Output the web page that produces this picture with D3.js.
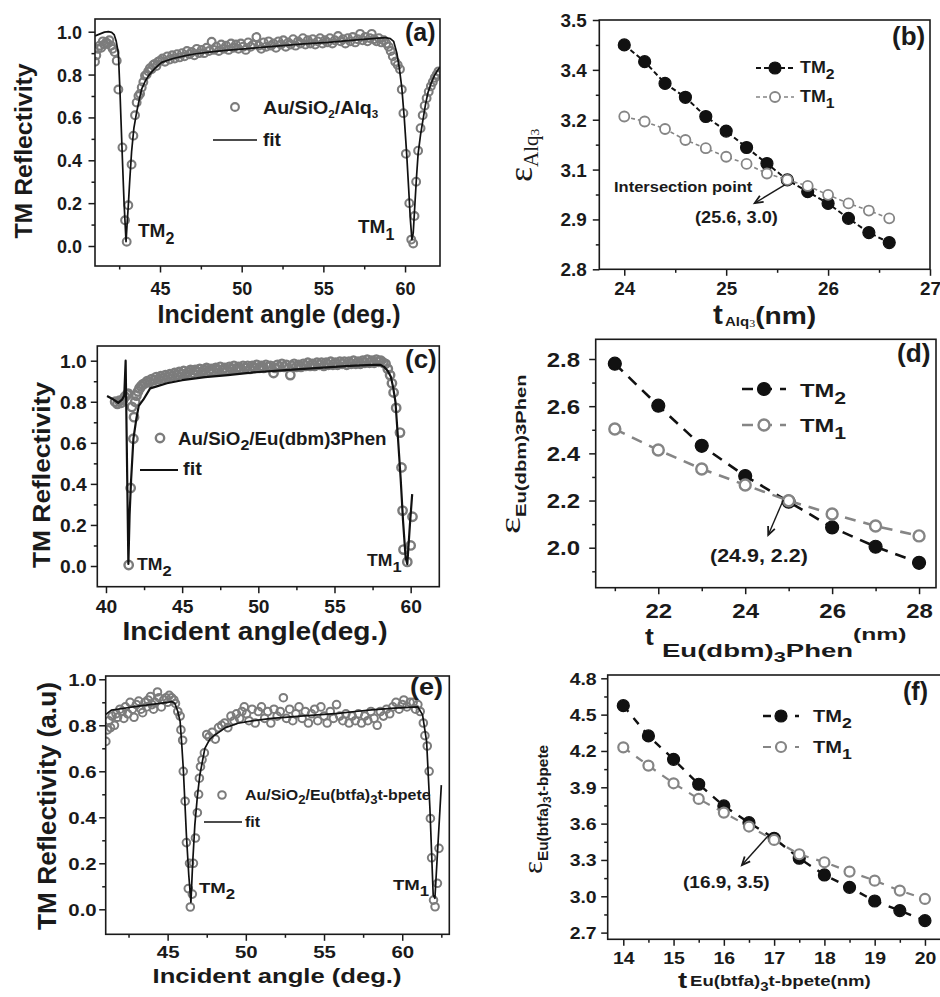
<!DOCTYPE html>
<html>
<head>
<meta charset="utf-8">
<script src="https://cdn.jsdelivr.net/npm/d3@7"></script>
<style>
  html, body { margin: 0; padding: 0; background: #fff; }
  svg { display: block; }
</style>
</head>
<body>
<script>
// ---------------- Reflectivity scans (TM polarisation) ----------------
// (a) Au/SiO2/Alq3
const aAngle = [41.02,41.10,41.20,41.30,41.40,41.50,41.60,41.70,41.80,41.90,42.00,42.10,42.22,42.35,42.45,42.70,42.86,42.96,43.06,43.26,43.37,43.47,43.57,43.68,43.78,43.88,43.98,44.08,44.18,44.28,44.38,44.48,44.58,44.68,44.78,44.88,45.00,45.15,45.30,45.45,45.60,45.75,45.90,46.05,46.20,46.35,46.50,46.65,46.80,46.95,47.10,47.25,47.40,47.55,47.70,47.85,48.00,48.16,48.30,48.45,48.60,48.75,48.90,49.05,49.20,49.35,49.50,49.65,49.80,49.95,50.10,50.25,50.40,50.55,50.70,50.90,51.05,51.20,51.35,51.50,51.65,51.80,51.95,52.10,52.25,52.40,52.55,52.70,52.85,53.00,53.15,53.30,53.45,53.60,53.75,53.90,54.05,54.20,54.35,54.50,54.65,54.80,54.95,55.10,55.25,55.40,55.55,55.70,55.90,56.05,56.20,56.35,56.50,56.65,56.80,56.95,57.10,57.25,57.40,57.55,57.70,57.85,57.96,58.10,58.25,58.40,58.55,58.70,58.85,59.00,59.12,59.25,59.40,59.55,59.69,59.80,59.90,60.05,60.26,60.38,60.50,60.58,60.68,60.80,60.95,61.08,61.20,61.32,61.45,61.58,61.70,61.82,61.94,62.05];
const aRefl  = [0.86,0.89,0.92,0.935,0.925,0.955,0.94,0.95,0.945,0.96,0.935,0.92,0.905,0.865,0.73,0.46,0.12,0.02,0.19,0.38,0.515,0.61,0.67,0.70,0.71,0.74,0.765,0.795,0.80,0.815,0.83,0.825,0.845,0.85,0.84,0.86,0.865,0.875,0.86,0.885,0.87,0.89,0.875,0.895,0.88,0.90,0.885,0.91,0.895,0.905,0.89,0.92,0.90,0.915,0.90,0.925,0.91,0.953,0.915,0.93,0.91,0.94,0.92,0.935,0.915,0.945,0.925,0.94,0.92,0.945,0.93,0.915,0.95,0.93,0.94,0.975,0.935,0.92,0.95,0.93,0.955,0.935,0.945,0.925,0.955,0.94,0.96,0.93,0.95,0.94,0.965,0.935,0.955,0.945,0.97,0.94,0.96,0.945,0.965,0.94,0.955,0.97,0.945,0.96,0.95,0.97,0.945,0.96,0.98,0.955,0.965,0.945,0.97,0.955,0.975,0.95,0.965,0.99,0.96,0.975,0.955,0.97,0.99,0.965,0.955,0.97,0.95,0.96,0.945,0.93,0.91,0.885,0.86,0.845,0.825,0.73,0.62,0.43,0.20,0.03,0.012,0.14,0.30,0.445,0.55,0.61,0.655,0.69,0.72,0.745,0.765,0.785,0.80,0.815];
const aFitAngle = [41.02,41.33,41.60,41.84,42.04,42.20,42.32,42.45,42.55,42.61,42.70,42.80,42.92,43.00,43.06,43.15,43.26,43.40,43.57,43.75,43.88,44.10,44.30,44.70,45.10,45.80,46.50,47.10,48.00,49.00,50.00,51.20,52.50,53.80,55.30,56.50,57.80,58.80,59.10,59.30,59.50,59.65,59.80,59.95,60.10,60.22,60.32,60.42,60.50,60.60,60.70,60.80,60.95,61.10,61.25,61.40,61.60,61.80,62.00,62.14];
const aFitRefl  = [0.98,0.99,0.998,1.0,0.997,0.985,0.955,0.90,0.72,0.59,0.40,0.20,0.02,0.12,0.19,0.31,0.44,0.55,0.625,0.69,0.733,0.77,0.795,0.83,0.857,0.875,0.887,0.896,0.905,0.913,0.919,0.927,0.935,0.943,0.95,0.958,0.967,0.972,0.968,0.955,0.90,0.83,0.74,0.60,0.43,0.27,0.13,0.03,0.06,0.19,0.32,0.43,0.52,0.59,0.66,0.715,0.76,0.795,0.82,0.835];

// (c) Au/SiO2/Eu(dbm)3Phen
const cAngle = [40.60,40.75,40.88,41.00,41.12,41.25,41.38,41.46,41.49,41.62,41.70,41.80,41.84,41.92,42.00,42.10,42.20,42.30,42.42,42.55,42.70,42.85,43.00,43.15,43.30,43.45,43.60,43.75,43.90,44.05,44.20,44.35,44.50,44.65,44.80,44.95,45.10,45.25,45.40,45.55,45.70,45.85,46.00,46.15,46.30,46.45,46.60,46.75,46.90,47.05,47.20,47.35,47.50,47.65,47.80,47.95,48.10,48.25,48.40,48.55,48.70,48.85,49.00,49.15,49.30,49.45,49.60,49.75,49.90,50.05,50.20,50.35,50.50,50.65,50.80,51.00,51.10,51.25,51.40,51.55,51.70,51.85,52.10,52.20,52.35,52.50,52.65,52.80,52.95,53.10,53.25,53.40,53.55,53.70,53.85,54.00,54.15,54.30,54.45,54.60,54.75,54.90,55.05,55.20,55.35,55.50,55.65,55.80,55.95,56.10,56.25,56.40,56.55,56.70,56.85,57.00,57.15,57.30,57.45,57.60,57.75,57.90,58.05,58.20,58.35,58.50,58.65,58.77,58.88,59.05,59.30,59.40,59.47,59.53,59.78,60.00,60.12];
const cRefl  = [0.80,0.79,0.805,0.795,0.81,0.825,0.835,0.84,0.005,0.38,0.775,0.62,0.725,0.80,0.83,0.85,0.865,0.875,0.885,0.89,0.90,0.895,0.91,0.905,0.92,0.91,0.925,0.915,0.93,0.92,0.935,0.925,0.94,0.93,0.945,0.935,0.95,0.935,0.945,0.955,0.94,0.955,0.945,0.96,0.945,0.955,0.965,0.95,0.96,0.95,0.965,0.955,0.97,0.955,0.965,0.955,0.97,0.96,0.975,0.96,0.97,0.96,0.975,0.965,0.975,0.96,0.975,0.965,0.98,0.965,0.975,0.965,0.98,0.97,0.975,0.94,0.965,0.98,0.97,0.985,0.97,0.98,0.93,0.975,0.985,0.97,0.98,0.97,0.985,0.975,0.99,0.975,0.985,0.975,0.99,0.98,0.99,0.975,0.99,0.98,0.995,0.98,0.99,0.98,0.995,0.985,0.995,0.98,0.995,0.985,1.0,0.985,0.995,0.985,1.0,0.99,1.005,0.99,1.0,0.99,1.005,0.995,1.0,0.99,0.985,0.96,0.93,0.89,0.845,0.77,0.65,0.48,0.27,0.08,0.02,0.10,0.24];
const cFitAngle = [40.07,40.40,40.80,41.05,41.20,41.29,41.47,41.55,41.65,41.80,42.00,42.15,42.45,42.90,43.33,44.00,45.00,46.50,48.00,50.00,52.00,54.00,56.00,57.50,58.00,58.25,58.50,58.70,58.85,59.00,59.17,59.34,59.50,59.67,59.78,59.95,60.10];
const cFitRefl  = [0.828,0.815,0.795,0.81,0.83,1.0,0.01,0.25,0.42,0.62,0.72,0.78,0.81,0.865,0.875,0.89,0.905,0.92,0.93,0.945,0.955,0.965,0.975,0.98,0.98,0.97,0.95,0.922,0.87,0.80,0.62,0.43,0.22,0.04,0.01,0.20,0.35];

// (e) Au/SiO2/Eu(btfa)3t-bpete
const eAngle = [41.05,41.15,41.25,41.35,41.45,41.60,41.70,41.80,41.95,42.10,42.20,42.30,42.45,42.60,42.75,42.85,43.00,43.15,43.30,43.40,43.55,43.65,43.75,43.90,44.00,44.10,44.20,44.35,44.45,44.60,44.75,44.90,45.00,45.10,45.25,45.40,45.50,45.65,45.80,45.85,45.96,46.00,46.12,46.20,46.32,46.40,46.45,46.58,46.65,46.78,46.90,46.98,47.03,47.10,47.20,47.35,47.50,47.65,47.85,48.05,48.25,48.45,48.65,48.85,49.05,49.25,49.40,49.60,49.75,49.90,50.05,50.20,50.40,50.60,50.80,51.00,51.20,51.40,51.60,51.80,52.00,52.20,52.40,52.60,52.80,53.00,53.20,53.40,53.60,53.80,54.00,54.20,54.40,54.60,54.80,55.00,55.20,55.40,55.60,55.80,56.00,56.20,56.40,56.60,56.80,57.00,57.20,57.40,57.60,57.80,58.00,58.20,58.40,58.60,58.80,59.00,59.20,59.40,59.60,59.80,60.00,60.10,60.30,60.50,60.70,60.85,61.00,61.15,61.35,61.45,61.60,61.72,61.80,61.88,62.00,62.10,62.25,62.35];
const eRefl  = [0.73,0.78,0.82,0.79,0.84,0.80,0.85,0.835,0.87,0.86,0.83,0.88,0.85,0.90,0.87,0.835,0.89,0.905,0.87,0.855,0.90,0.88,0.91,0.925,0.89,0.87,0.90,0.945,0.92,0.88,0.91,0.92,0.90,0.93,0.92,0.91,0.895,0.86,0.84,0.78,0.735,0.60,0.47,0.29,0.09,0.20,0.01,0.066,0.20,0.31,0.42,0.50,0.57,0.62,0.65,0.68,0.76,0.75,0.77,0.74,0.79,0.80,0.81,0.79,0.84,0.82,0.85,0.83,0.86,0.88,0.85,0.82,0.87,0.81,0.86,0.88,0.83,0.86,0.81,0.87,0.84,0.86,0.92,0.83,0.87,0.82,0.85,0.88,0.83,0.86,0.81,0.85,0.87,0.82,0.88,0.84,0.81,0.86,0.83,0.89,0.84,0.82,0.85,0.81,0.84,0.82,0.85,0.81,0.84,0.82,0.86,0.83,0.80,0.86,0.84,0.87,0.85,0.88,0.90,0.87,0.89,0.91,0.88,0.90,0.90,0.87,0.89,0.86,0.81,0.755,0.71,0.60,0.395,0.224,0.04,0.011,0.113,0.265];
const eFitAngle = [41.00,41.40,42.00,43.00,44.00,45.00,45.25,45.46,45.65,45.80,45.90,46.00,46.10,46.20,46.35,46.49,46.60,46.74,46.90,47.06,47.38,47.70,48.02,48.70,49.50,50.50,51.65,53.50,55.90,57.00,58.04,59.50,61.00,61.30,61.56,61.77,61.98,62.09,62.50];
const eFitRefl  = [0.845,0.866,0.872,0.882,0.891,0.90,0.903,0.896,0.86,0.816,0.72,0.613,0.47,0.323,0.15,0.03,0.20,0.367,0.49,0.584,0.70,0.74,0.758,0.79,0.809,0.82,0.83,0.84,0.852,0.86,0.867,0.875,0.88,0.845,0.729,0.439,0.062,0.048,0.54];

// ---------------- Permittivity against layer thickness ----------------
// (b) Alq3
const bThick = [24.0,24.2,24.4,24.6,24.8,25.0,25.2,25.4,25.6,25.8,26.0,26.2,26.4,26.6];
const bTM2   = [3.430,3.383,3.322,3.283,3.229,3.188,3.142,3.097,3.051,3.018,2.985,2.943,2.903,2.875];
const bTM1   = [3.229,3.215,3.194,3.163,3.140,3.116,3.096,3.069,3.051,3.034,3.009,2.985,2.965,2.943];
// (d) Eu(dbm)3Phen
const dThick = [21,22,23,24,25,26,27,28];
const dTM2   = [2.780,2.602,2.432,2.304,2.195,2.086,2.004,1.936];
const dTM1   = [2.503,2.414,2.334,2.266,2.199,2.143,2.092,2.050];
// (f) Eu(btfa)3t-bpete
const fThick = [14.0,14.5,15.0,15.5,16.0,16.5,17.0,17.5,18.0,18.5,19.0,19.5,20.0];
const fTM2   = [4.574,4.324,4.131,3.925,3.746,3.608,3.479,3.314,3.176,3.074,2.961,2.882,2.799];
const fTM1   = [4.230,4.079,3.933,3.804,3.691,3.576,3.465,3.347,3.281,3.204,3.129,3.047,2.978];

// ---------------- Tick values ----------------
const reflYTicks = [0, 0.2, 0.4, 0.6, 0.8, 1.0];
const reflYMinor = [0.1, 0.3, 0.5, 0.7, 0.9];
const aXTicks = [45, 50, 55, 60],     aXMinor = [42.5, 47.5, 52.5, 57.5];
const cXTicks = [40, 45, 50, 55, 60], cXMinor = [42.5, 47.5, 52.5, 57.5];
const eXTicks = [45, 50, 55, 60],     eXMinor = [42.5, 47.5, 52.5, 57.5, 62.5];
const bXTicks = [24, 25, 26, 27],     bXMinor = [24.5, 25.5, 26.5];
const bYTicks = [2.8, 2.94, 3.08, 3.22, 3.36, 3.5], bYMinor = [2.87, 3.01, 3.15, 3.29, 3.43];
const dXTicks = [22, 24, 26, 28],     dXMinor = [21, 23, 25, 27];
const dYTicks = [2.0, 2.2, 2.4, 2.6, 2.8], dYMinor = [1.9, 2.1, 2.3, 2.5, 2.7];
const fXTicks = [14, 15, 16, 17, 18, 19, 20], fXMinor = [14.5, 15.5, 16.5, 17.5, 18.5, 19.5];
const fYTicks = [2.7, 3.0, 3.3, 3.6, 3.9, 4.2, 4.5, 4.8], fYMinor = [2.85, 3.15, 3.45, 3.75, 4.05, 4.35, 4.65];

// ---------------- Drawing ----------------
const W = 940, H = 997;
const SANS = '"Liberation Sans", Arial, Helvetica, sans-serif';
const SERIF = '"Liberation Serif", "Times New Roman", serif';
const INK = '#1a1a1a', DOT = '#7c7c7c', TM1C = '#858585';

const svg = d3.select('body').append('svg')
  .attr('width', W).attr('height', H).attr('viewBox', `0 0 ${W} ${H}`);
svg.append('rect').attr('width', W).attr('height', H).attr('fill', '#fff');

const zip = (xs, ys) => xs.map((v, i) => [v, ys[i]]);

// text made of styled runs; sx stretches along the reading direction
function rich(g, x, y, parts, o = {}) {
  const t = g.append('text')
    .attr('transform', `translate(${x},${y})` + (o.rot ? ` rotate(${o.rot})` : '') + ` scale(${o.sx || 1},1)`)
    .attr('text-anchor', o.anchor || 'start')
    .attr('font-family', o.family || SANS)
    .attr('font-weight', o.weight || 'bold')
    .attr('fill', INK);
  parts.forEach(p => {
    const ts = t.append('tspan').attr('font-size', p.s).text(p.t);
    if (p.dy) ts.attr('dy', p.dy);
    if (p.family) ts.attr('font-family', p.family);
    if (p.weight) ts.attr('font-weight', p.weight);
  });
  return t;
}

let clipCount = 0;
function panel(s) {
  const g = svg.append('g');
  const x = d3.scaleLinear().domain(s.xd).range([s.l, s.r]);
  const y = d3.scaleLinear().domain(s.yd).range([s.b, s.t]);
  const id = 'plotclip' + (clipCount++);
  g.append('clipPath').attr('id', id).append('rect')
    .attr('x', s.l).attr('y', s.t).attr('width', s.r - s.l).attr('height', s.b - s.t);
  const plot = g.append('g').attr('clip-path', `url(#${id})`);

  const tidy = sel => {
    sel.select('.domain').remove();
    sel.selectAll('line').attr('stroke', INK).attr('stroke-width', 1.5);
  };
  const labelStyle = sel => sel
    .attr('font-size', s.fs).attr('font-weight', 'bold')
    .attr('font-family', SANS).attr('fill', INK);

  g.append('g').attr('transform', `translate(0,${s.b})`)
    .call(d3.axisBottom(x).tickValues(s.xMinor).tickSize(3.5).tickFormat(''))
    .call(tidy);
  const xa = g.append('g').attr('transform', `translate(0,${s.b})`)
    .call(d3.axisBottom(x).tickValues(s.xTicks).tickSizeInner(6.5).tickSizeOuter(0).tickFormat(s.xFmt))
    .call(tidy);
  xa.selectAll('text').attr('y', null).attr('dy', null)
    .attr('transform', `translate(0,${s.xLab}) scale(${s.sx},1)`).call(labelStyle);

  g.append('g').attr('transform', `translate(${s.l},0)`)
    .call(d3.axisLeft(y).tickValues(s.yMinor).tickSize(3.5).tickFormat(''))
    .call(tidy);
  const ya = g.append('g').attr('transform', `translate(${s.l},0)`)
    .call(d3.axisLeft(y).tickValues(s.yTicks).tickSizeInner(6.5).tickSizeOuter(0).tickFormat(s.yFmt))
    .call(tidy);
  ya.selectAll('text').attr('x', null).attr('dy', '0.36em')
    .attr('transform', `translate(${-s.yLab},0) scale(${s.sx},1)`).call(labelStyle);

  const frame = () => g.append('rect')
    .attr('x', s.l).attr('y', s.t).attr('width', s.r - s.l).attr('height', s.b - s.t)
    .attr('fill', 'none').attr('stroke', INK).attr('stroke-width', 1.6);
  return { g, plot, x, y, frame };
}

function scatterFit(P, pts, fit, st) {
  const line = d3.line().x(d => P.x(d[0])).y(d => P.y(d[1]));
  P.plot.append('g').selectAll('circle').data(pts).join('circle')
    .attr('cx', d => P.x(d[0])).attr('cy', d => P.y(d[1])).attr('r', st.r)
    .attr('fill', 'none').attr('stroke', DOT).attr('stroke-width', st.w);
  P.plot.append('path').datum(fit).attr('d', line)
    .attr('fill', 'none').attr('stroke', '#111').attr('stroke-width', st.fw)
    .attr('stroke-linejoin', 'round');
}

function series(P, xs, ys, st) {
  const pts = zip(xs, ys);
  const line = d3.line().x(d => P.x(d[0])).y(d => P.y(d[1]));
  P.plot.append('path').datum(pts).attr('d', line)
    .attr('fill', 'none').attr('stroke', st.color).attr('stroke-width', st.lw)
    .attr('stroke-dasharray', st.dash);
  P.plot.append('g').selectAll('circle').data(pts).join('circle')
    .attr('cx', d => P.x(d[0])).attr('cy', d => P.y(d[1])).attr('r', st.r)
    .attr('fill', st.fill).attr('stroke', st.color).attr('stroke-width', st.mw);
}

function legendRow(g, x1, x2, y, st) {
  g.append('line').attr('x1', x1).attr('x2', x2).attr('y1', y).attr('y2', y)
    .attr('stroke', st.color).attr('stroke-width', st.lw).attr('stroke-dasharray', st.dash);
  g.append('circle').attr('cx', (x1 + x2) / 2).attr('cy', y).attr('r', st.r)
    .attr('fill', st.fill).attr('stroke', st.color).attr('stroke-width', st.mw);
}

function arrow(g, x1, y1, x2, y2) {
  const a = Math.atan2(y2 - y1, x2 - x1), L = 9, spread = 0.42;
  g.append('line').attr('x1', x1).attr('y1', y1).attr('x2', x2).attr('y2', y2)
    .attr('stroke', INK).attr('stroke-width', 1.4);
  const p1 = [x2 - L * Math.cos(a - spread), y2 - L * Math.sin(a - spread)];
  const p2 = [x2 - L * Math.cos(a + spread), y2 - L * Math.sin(a + spread)];
  g.append('path').attr('d', `M${p1}L${x2},${y2}L${p2}`)
    .attr('fill', 'none').attr('stroke', INK).attr('stroke-width', 1.8).attr('stroke-linejoin', 'miter');
}

const fmt1 = d3.format('.1f'), fmtD = d3.format('d');

// ===== (a) =====
{
  const P = panel({ l: 95, r: 440, t: 19, b: 266, xd: [41.02, 62.14], yd: [-0.0933, 1.0593],
    xTicks: aXTicks, xMinor: aXMinor, yTicks: reflYTicks, yMinor: reflYMinor,
    xFmt: fmtD, yFmt: fmt1, fs: 18, sx: 1.0, xLab: 29, yLab: 13 });
  const dot = { r: 3.9, w: 2.1, fw: 1.7 };
  scatterFit(P, zip(aAngle, aRefl), zip(aFitAngle, aFitRefl), dot);
  P.frame();
  const g = P.g;
  rich(g, 32, 151, [{ t: 'TM Reflectivity', s: 23 }], { rot: -90, anchor: 'middle', sx: 1.08 });
  rich(g, 279, 323, [{ t: 'Incident angle (deg.)', s: 25 }], { anchor: 'middle' });
  g.append('circle').attr('cx', 235).attr('cy', 107).attr('r', dot.r).attr('fill', 'none').attr('stroke', DOT).attr('stroke-width', dot.w);
  rich(g, 263, 114, [{ t: 'Au/SiO', s: 18.5 }, { t: '2', s: 11, dy: 4 }, { t: '/Alq', s: 18.5, dy: -4 }, { t: '3', s: 11, dy: 4 }], { sx: 1.06 });
  g.append('line').attr('x1', 213).attr('x2', 257).attr('y1', 140).attr('y2', 140).attr('stroke', '#111').attr('stroke-width', 1.7);
  rich(g, 263, 146, [{ t: 'fit', s: 19 }]);
  rich(g, 138, 237, [{ t: 'TM', s: 19 }, { t: '2', s: 16, dy: 7 }]);
  rich(g, 358, 233, [{ t: 'TM', s: 19 }, { t: '1', s: 16, dy: 7 }]);
  rich(g, 405, 41, [{ t: '(a)', s: 25 }]);
}

// ===== (c) =====
{
  const P = panel({ l: 97.3, r: 439.3, t: 346, b: 586.7, xd: [39.43, 61.88], yd: [-0.1008, 1.0716],
    xTicks: cXTicks, xMinor: cXMinor, yTicks: reflYTicks, yMinor: reflYMinor,
    xFmt: fmtD, yFmt: fmt1, fs: 17.5, sx: 1.1, xLab: 26, yLab: 10.6 });
  const dot = { r: 4.2, w: 2.4, fw: 2.2 };
  scatterFit(P, zip(cAngle, cRefl), zip(cFitAngle, cFitRefl), dot);
  P.frame();
  const g = P.g;
  rich(g, 50, 475, [{ t: 'TM Reflectivity', s: 24 }], { rot: -90, anchor: 'middle', sx: 1.1 });
  rich(g, 255, 640, [{ t: 'Incident angle(deg.)', s: 26 }], { anchor: 'middle', sx: 1.08 });
  g.append('circle').attr('cx', 160).attr('cy', 438).attr('r', dot.r).attr('fill', 'none').attr('stroke', DOT).attr('stroke-width', dot.w);
  rich(g, 178, 445, [{ t: 'Au/SiO', s: 17.5 }, { t: '2', s: 15, dy: 5 }, { t: '/Eu(dbm)3Phen', s: 17.5, dy: -5 }], { sx: 1.07 });
  g.append('line').attr('x1', 140).attr('x2', 178).attr('y1', 470).attr('y2', 470).attr('stroke', '#111').attr('stroke-width', 2);
  rich(g, 183, 475, [{ t: 'fit', s: 19 }], { sx: 1.05 });
  rich(g, 137, 570, [{ t: 'TM', s: 16 }, { t: '2', s: 15, dy: 6 }], { sx: 1.1 });
  rich(g, 367, 566, [{ t: 'TM', s: 16 }, { t: '1', s: 15, dy: 6 }], { sx: 1.1 });
  rich(g, 405, 368, [{ t: '(c)', s: 26 }]);
}

// ===== (e) =====
{
  const P = panel({ l: 105.7, r: 449.3, t: 676, b: 934.3, xd: [41.04, 63.01], yd: [-0.1087, 1.0143],
    xTicks: eXTicks, xMinor: eXMinor, yTicks: reflYTicks, yMinor: reflYMinor,
    xFmt: fmtD, yFmt: fmt1, fs: 17, sx: 1.2, xLab: 24, yLab: 9 });
  const dot = { r: 3.8, w: 2, fw: 1.7 };
  scatterFit(P, zip(eAngle, eRefl), zip(eFitAngle, eFitRefl), dot);
  P.frame();
  const g = P.g;
  rich(g, 56, 806, [{ t: 'TM Reflectivity (a.u)', s: 25 }], { rot: -90, anchor: 'middle', sx: 1.05 });
  rich(g, 277, 983, [{ t: 'Incident angle (deg.)', s: 21 }], { anchor: 'middle', sx: 1.22 });
  g.append('circle').attr('cx', 222).attr('cy', 795).attr('r', dot.r).attr('fill', 'none').attr('stroke', DOT).attr('stroke-width', dot.w);
  rich(g, 245, 800, [{ t: 'Au/SiO', s: 14.5 }, { t: '2', s: 12, dy: 4 }, { t: '/Eu(btfa)', s: 14.5, dy: -4 }, { t: '3', s: 12, dy: 4 }, { t: 't-bpete', s: 14.5, dy: -4 }], { sx: 1.1 });
  g.append('line').attr('x1', 204).attr('x2', 242).attr('y1', 822).attr('y2', 822).attr('stroke', '#111').attr('stroke-width', 1.7);
  rich(g, 245, 827, [{ t: 'fit', s: 14.5 }], { sx: 1.1 });
  rich(g, 199, 893, [{ t: 'TM', s: 15.5 }, { t: '2', s: 14, dy: 6 }], { sx: 1.2 });
  rich(g, 393, 890, [{ t: 'TM', s: 15.5 }, { t: '1', s: 14, dy: 6 }], { sx: 1.2 });
  rich(g, 410, 695, [{ t: '(e)', s: 24 }], { sx: 1.13 });
}

// ===== (b) =====
{
  const P = panel({ l: 599.3, r: 930, t: 20, b: 269.3, xd: [23.755, 27.0], yd: [2.8, 3.5],
    xTicks: bXTicks, xMinor: bXMinor, yTicks: bYTicks, yMinor: bYMinor,
    xFmt: fmtD, yFmt: fmt1, fs: 18, sx: 1.05, xLab: 26, yLab: 12.6 });
  const tm2 = { color: '#111', fill: '#111', lw: 2, dash: '5,3', r: 6, mw: 1.2 };
  const tm1 = { color: TM1C, fill: '#fff', lw: 1.6, dash: '4,3', r: 5, mw: 1.8 };
  series(P, bThick, bTM2, tm2);
  series(P, bThick, bTM1, tm1);
  P.frame();
  const g = P.g;
  rich(g, 532, 182, [{ t: 'ε', s: 34, family: SERIF, weight: 'normal' }, { t: 'Alq', s: 20, family: SERIF, weight: 'normal', dy: 6 }, { t: '3', s: 13, family: SERIF, weight: 'normal', dy: 1 }], { rot: -90, sx: 1.05 });
  rich(g, 713, 324, [{ t: 't', s: 27 }], { sx: 1.1 });
  rich(g, 725, 324, [{ t: 'Alq', s: 12.5, dy: 2 }, { t: '3', s: 10, family: SERIF, weight: 'normal', dy: 1 }, { t: '(nm)', s: 23.5, dy: -3 }], { sx: 1.2 });
  legendRow(g, 756, 794, 68, tm2);
  legendRow(g, 756, 794, 97, tm1);
  rich(g, 800, 73, [{ t: 'TM', s: 17 }, { t: '2', s: 15, dy: 6 }], { sx: 1.05 });
  rich(g, 800, 102, [{ t: 'TM', s: 17 }, { t: '1', s: 15, dy: 6 }], { sx: 1.05 });
  rich(g, 892, 45, [{ t: '(b)', s: 26 }]);
  rich(g, 614, 192, [{ t: 'Intersection point', s: 15 }], { sx: 1.1 });
  rich(g, 695, 223, [{ t: '(25.6, 3.0)', s: 17 }], { sx: 1.07 });
  arrow(g, P.x(25.575), P.y(3.037), P.x(25.28), P.y(2.986));
}

// ===== (d) =====
{
  const P = panel({ l: 595.7, r: 936, t: 339.3, b: 587.7, xd: [20.56, 28.39], yd: [1.8305, 2.8835],
    xTicks: dXTicks, xMinor: dXMinor, yTicks: dYTicks, yMinor: dYMinor,
    xFmt: fmtD, yFmt: fmt1, fs: 20, sx: 1.2, xLab: 30, yLab: 15.7 });
  const tm2 = { color: '#111', fill: '#111', lw: 2.6, dash: '11,8', r: 6.5, mw: 1.2 };
  const tm1 = { color: TM1C, fill: '#fff', lw: 2.6, dash: '11,8', r: 5.5, mw: 2.4 };
  series(P, dThick, dTM2, tm2);
  series(P, dThick, dTM1, tm1);
  P.frame();
  const g = P.g;
  rich(g, 520, 534, [{ t: 'ε', s: 30, family: SERIF, weight: 'normal' }, { t: 'Eu(dbm)3Phen', s: 15, dy: 6 }], { rot: -90, sx: 1.35 });
  rich(g, 645, 645, [{ t: 't', s: 23 }], { sx: 1.15 });
  rich(g, 662, 657, [{ t: 'Eu(dbm)', s: 19 }, { t: '3', s: 15, dy: 5 }, { t: 'Phen', s: 19, dy: -5 }, { t: '(nm)', s: 17, dy: -17 }], { sx: 1.45 });
  legendRow(g, 742, 786, 389, tm2);
  legendRow(g, 742, 786, 425, tm1);
  rich(g, 800, 397, [{ t: 'TM', s: 19 }, { t: '2', s: 17, dy: 7 }], { sx: 1.25 });
  rich(g, 800, 432, [{ t: 'TM', s: 19 }, { t: '1', s: 17, dy: 7 }], { sx: 1.25 });
  rich(g, 897, 362, [{ t: '(d)', s: 25 }], { sx: 1.05 });
  rich(g, 710, 562, [{ t: '(24.9, 2.2)', s: 19 }], { sx: 1.13 });
  arrow(g, P.x(24.876), P.y(2.2025), P.x(24.53), P.y(2.054));
}

// ===== (f) =====
{
  const P = panel({ l: 607.7, r: 942, t: 675, b: 939.3, xd: [13.69, 20.339], yd: [2.6448, 4.8273],
    xTicks: fXTicks, xMinor: fXMinor, yTicks: fYTicks, yMinor: fYMinor,
    xFmt: fmtD, yFmt: fmt1, fs: 16.5, sx: 1.18, xLab: 25, yLab: 11 });
  const tm2 = { color: '#111', fill: '#111', lw: 2.4, dash: '8,8', r: 6, mw: 1.2 };
  const tm1 = { color: TM1C, fill: '#fff', lw: 2.2, dash: '8,8', r: 5, mw: 2.2 };
  series(P, fThick, fTM2, tm2);
  series(P, fThick, fTM1, tm1);
  P.frame();
  const g = P.g;
  rich(g, 542, 874, [{ t: 'ε', s: 28, family: SERIF, weight: 'normal' }, { t: 'Eu(btfa)', s: 14, dy: 6 }, { t: '3', s: 11, dy: 3 }, { t: 't-bpete', s: 14, dy: -3 }], { rot: -90, sx: 1.1 });
  rich(g, 678, 988, [{ t: 't', s: 22 }], { sx: 1.25 });
  rich(g, 690, 986, [{ t: 'Eu(btfa)', s: 15.5 }, { t: '3', s: 12.5, dy: 5 }, { t: 't-bpete(nm)', s: 15.5, dy: -5 }], { sx: 1.2 });
  legendRow(g, 763, 799, 716, tm2);
  legendRow(g, 763, 799, 747, tm1);
  rich(g, 813, 722, [{ t: 'TM', s: 17 }, { t: '2', s: 15, dy: 6 }], { sx: 1.18 });
  rich(g, 813, 753, [{ t: 'TM', s: 17 }, { t: '1', s: 15, dy: 6 }], { sx: 1.18 });
  rich(g, 903, 700, [{ t: '(f)', s: 25 }]);
  rich(g, 683, 888, [{ t: '(16.9, 3.5)', s: 17 }], { sx: 1.12 });
  arrow(g, P.x(16.877), P.y(3.498), P.x(16.36), P.y(3.258));
}
</script>
</body>
</html>
